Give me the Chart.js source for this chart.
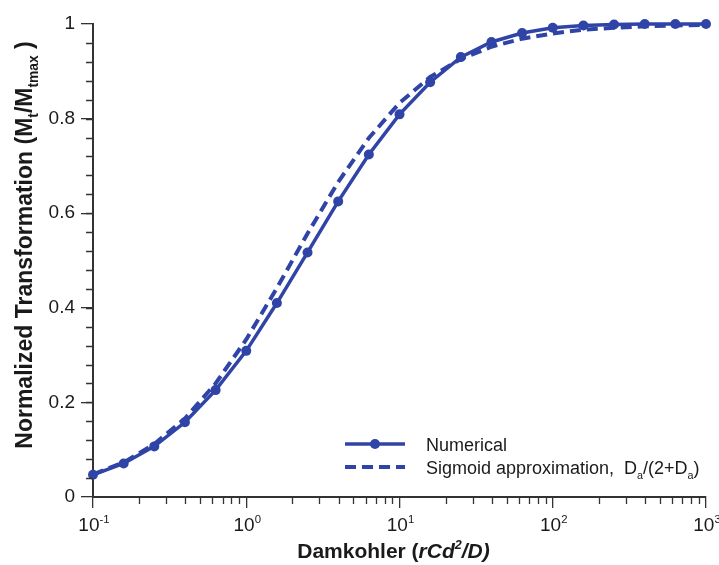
<!DOCTYPE html>
<html>
<head>
<meta charset="utf-8">
<script src="https://cdn.jsdelivr.net/npm/chart.js@4/dist/chart.umd.min.js"></script>
<style>
  html, body { margin: 0; padding: 0; background: #ffffff; }
  #c { display: block; }
</style>
</head>
<body>
<canvas id="c" width="719" height="565"></canvas>
<script>
// ---------- data ----------
const damkohler = [0.1, 0.1585, 0.2512, 0.3981, 0.631, 1, 1.585, 2.512, 3.981, 6.31, 10,
                   15.85, 25.12, 39.81, 63.1, 100, 158.5, 251.2, 398.1, 631, 1000];
const numerical = [0.047, 0.071, 0.107, 0.158, 0.226, 0.309, 0.410, 0.517, 0.625, 0.724, 0.809,
                   0.877, 0.930, 0.962, 0.981, 0.992, 0.997, 0.999, 1.0, 1.0, 1.0];
const sigmoid   = [0.048, 0.073, 0.112, 0.166, 0.240, 0.333, 0.442, 0.557, 0.666, 0.759, 0.833,
                   0.888, 0.926, 0.952, 0.969, 0.980, 0.988, 0.992, 0.995, 0.997, 0.998];
const seriesLabels = ['Numerical', 'Sigmoid approximation,  D_a/(2+D_a)'];

const xTickValues = [0.1, 1, 10, 100, 1000];
const xTickExponents = ['-1', '0', '1', '2', '3'];
const yTickValues = [0, 0.2, 0.4, 0.6, 0.8, 1];
const yTickLabels = ['0', '0.2', '0.4', '0.6', '0.8', '1'];
const yMinorStep = 0.04;

const xTitleParts = [{t: 'Damkohler ('}, {t: 'rCd', i: true}, {t: '2', i: true, sup: true}, {t: '/D)', i: true}];
const yTitleParts = [{t: 'Normalized Transformation (M'}, {t: 't', sub: true}, {t: '/M'}, {t: 'tmax', sub: true}, {t: ' )'}];

// ---------- styling ----------
const BLUE = '#2f44a6';
const AXIS = '#333333';
const TEXT = '#1a1a1a';
const FONT = '"Liberation Sans", Arial, Helvetica, sans-serif';

function fontStr(size, bold, italic) {
  return (italic ? 'italic ' : '') + (bold ? 'bold ' : '') + size + 'px ' + FONT;
}

// parse "D_a" style label into parts
function parseLabel(s) {
  const parts = [];
  const re = /_([A-Za-z0-9])/g;
  let last = 0, m;
  while ((m = re.exec(s)) !== null) {
    if (m.index > last) parts.push({t: s.slice(last, m.index)});
    parts.push({t: m[1], sub: true});
    last = re.lastIndex;
  }
  if (last < s.length) parts.push({t: s.slice(last)});
  return parts;
}

function richWidth(ctx, parts, size, bold) {
  let w = 0;
  for (const p of parts) {
    const s = (p.sub || p.sup) ? size * 0.6 : size;
    ctx.font = fontStr(s, bold, p.i);
    w += ctx.measureText(p.t).width;
  }
  return w;
}

function drawRich(ctx, parts, x, y, size, bold, align) {
  const w = richWidth(ctx, parts, size, bold);
  let cx = align === 'center' ? x - w / 2 : (align === 'right' ? x - w : x);
  ctx.textBaseline = 'alphabetic';
  ctx.textAlign = 'left';
  for (const p of parts) {
    const s = (p.sub || p.sup) ? size * 0.6 : size;
    ctx.font = fontStr(s, bold, p.i);
    let dy = 0;
    if (p.sub) dy = size * 0.28;
    if (p.sup) dy = -size * 0.42;
    ctx.fillText(p.t, cx, y + dy);
    cx += ctx.measureText(p.t).width;
  }
}

const decorPlugin = {
  id: 'decor',
  afterDraw(chart) {
    const ctx = chart.ctx;
    const xs = chart.scales.x, ys = chart.scales.y;
    const area = chart.chartArea;
    ctx.save();
    // minor ticks on y axis
    ctx.strokeStyle = AXIS;
    ctx.lineWidth = 1.3;
    ctx.beginPath();
    for (let v = yMinorStep; v < 1; v += yMinorStep) {
      const py = Math.round(ys.getPixelForValue(v)) + 0.5;
      ctx.moveTo(area.left - 7, py);
      ctx.lineTo(area.left, py);
    }
    // minor ticks on x axis
    for (let d = 0; d < xTickValues.length - 1; d++) {
      for (let k = 2; k <= 9; k++) {
        const px = Math.round(xs.getPixelForValue(xTickValues[d] * k)) + 0.5;
        ctx.moveTo(px, area.bottom);
        ctx.lineTo(px, area.bottom + 7);
      }
    }
    ctx.stroke();

    // x tick labels with superscript exponents
    ctx.fillStyle = TEXT;
    xTickValues.forEach((v, i) => {
      const px = xs.getPixelForValue(v);
      drawRich(ctx, [{t: '10'}, {t: xTickExponents[i], sup: true}], px + 1, area.bottom + 34, 19, false, 'center');
    });

    // axis titles
    drawRich(ctx, xTitleParts, (area.left + area.right) / 2 - 6, 558, 21, true, 'center');
    ctx.save();
    ctx.translate(32, 245);
    ctx.rotate(-Math.PI / 2);
    drawRich(ctx, yTitleParts, 0, 0, 23, true, 'center');
    ctx.restore();

    // legend (inside plot, lower right)
    const lx0 = 345, lx1 = 405, tx = 426;
    const rows = [444, 467];
    chart.data.datasets.forEach((ds, i) => {
      const yy = rows[i];
      ctx.strokeStyle = ds.borderColor;
      ctx.lineWidth = ds.borderWidth;
      ctx.setLineDash(ds.borderDash || []);
      ctx.beginPath();
      ctx.moveTo(lx0, yy);
      ctx.lineTo(lx1, yy);
      ctx.stroke();
      ctx.setLineDash([]);
      if (ds.pointRadius > 0) {
        ctx.fillStyle = ds.pointBackgroundColor;
        ctx.beginPath();
        ctx.arc((lx0 + lx1) / 2, yy, ds.pointRadius, 0, Math.PI * 2);
        ctx.fill();
      }
      ctx.fillStyle = TEXT;
      drawRich(ctx, parseLabel(ds.label), tx, yy + 6.5, 18, false, 'left');
    });
    ctx.restore();
  }
};

new Chart(document.getElementById('c'), {
  type: 'line',
  data: {
    datasets: [
      {
        label: seriesLabels[0],
        data: damkohler.map((x, i) => ({x: x, y: numerical[i]})),
        borderColor: BLUE,
        backgroundColor: BLUE,
        pointBackgroundColor: BLUE,
        pointBorderWidth: 0,
        pointRadius: 5,
        borderWidth: 3.5,
        tension: 0,
        clip: false,
        order: 1
      },
      {
        label: seriesLabels[1],
        data: damkohler.map((x, i) => ({x: x, y: sigmoid[i]})),
        borderColor: BLUE,
        backgroundColor: BLUE,
        borderDash: [11, 6],
        pointRadius: 0,
        borderWidth: 4,
        tension: 0,
        clip: false,
        order: 2
      }
    ]
  },
  options: {
    responsive: false,
    animation: false,
    devicePixelRatio: 1,
    layout: { padding: { top: 24, right: 13, left: 0, bottom: 0 } },
    plugins: { legend: { display: false }, tooltip: { enabled: false } },
    scales: {
      x: {
        type: 'logarithmic',
        min: 0.1,
        max: 1000,
        afterBuildTicks: (s) => { s.ticks = xTickValues.map(v => ({value: v})); },
        afterFit: (s) => { s.height = 68; },
        ticks: { display: false },
        grid: { drawOnChartArea: false, drawTicks: true, tickLength: 11, color: AXIS, lineWidth: 1.3 },
        border: { display: true, color: AXIS, width: 2 }
      },
      y: {
        min: 0,
        max: 1,
        afterBuildTicks: (s) => { s.ticks = yTickValues.map(v => ({value: v})); },
        afterFit: (s) => { s.width = 93; },
        ticks: {
          callback: (v, i) => yTickLabels[i],
          font: { family: FONT, size: 19 },
          color: TEXT,
          padding: 6
        },
        grid: { drawOnChartArea: false, drawTicks: true, tickLength: 12, color: AXIS, lineWidth: 1.3 },
        border: { display: true, color: AXIS, width: 2 }
      }
    }
  },
  plugins: [decorPlugin]
});
</script>
</body>
</html>
